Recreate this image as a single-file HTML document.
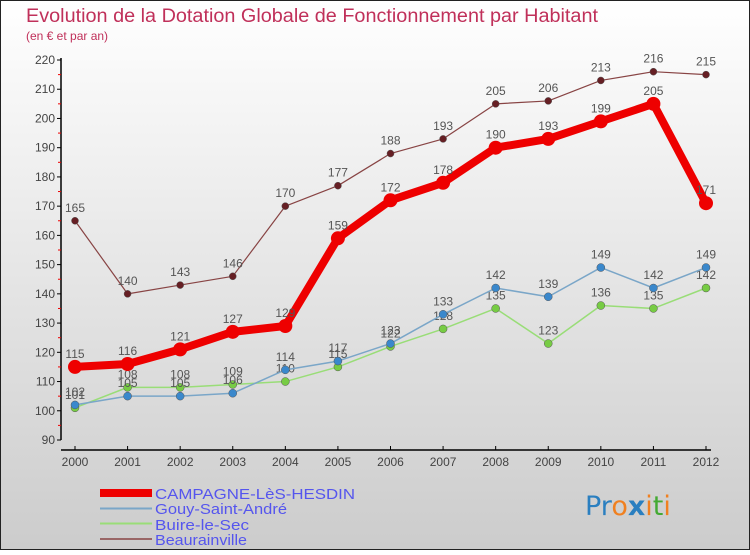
<!DOCTYPE html>
<html><head><meta charset="utf-8"><style>
html,body{margin:0;padding:0}
body{width:750px;height:550px;overflow:hidden;font-family:"Liberation Sans",sans-serif}
</style></head><body>
<svg width="750" height="550" xmlns="http://www.w3.org/2000/svg">
<defs><linearGradient id="bg" x1="0" y1="0" x2="0" y2="1"><stop offset="0" stop-color="#ffffff"/><stop offset="1" stop-color="#cccccc"/></linearGradient></defs>
<rect x="0.5" y="0.5" width="749" height="549" fill="url(#bg)" stroke="#222"/>
<text x="26" y="22" font-size="19" fill="#c0305a" textLength="572" lengthAdjust="spacingAndGlyphs">Evolution de la Dotation Globale de Fonctionnement par Habitant</text>
<text x="26" y="40" font-size="12" fill="#c0305a">(en € et par an)</text>
<g id="axes"></g>
<g id="series"></g>
<g id="legend" font-size="15" fill="#5555ee">
<rect x="100" y="489" width="52" height="8" fill="#ee0000"/>
<text x="155" y="499" textLength="200" lengthAdjust="spacingAndGlyphs">CAMPAGNE-LèS-HESDIN</text>
<rect x="100" y="507.5" width="52" height="2" fill="#7aa6c8"/>
<text x="155" y="514" textLength="132" lengthAdjust="spacingAndGlyphs">Gouy-Saint-André</text>
<rect x="100" y="522.5" width="52" height="2" fill="#99dd77"/>
<text x="155" y="530" textLength="94" lengthAdjust="spacingAndGlyphs">Buire-le-Sec</text>
<rect x="100" y="538" width="52" height="2" fill="#996666"/>
<text x="155" y="545" textLength="92" lengthAdjust="spacingAndGlyphs">Beaurainville</text>
</g>
<g font-size="27" font-family="DejaVu Sans, sans-serif">
<text x="585" y="515"><tspan fill="#2a7fc0">Pr</tspan><tspan fill="#f08020">o</tspan><tspan fill="#2a7fc0" font-weight="bold">x</tspan><tspan fill="#f08020">i</tspan><tspan fill="#44aa33">t</tspan><tspan fill="#f08020">i</tspan></text>
</g>
</svg>
<script>
const years=[2000,2001,2002,2003,2004,2005,2006,2007,2008,2009,2010,2011,2012];
const campagne=[115,116,121,127,129,159,172,178,190,193,199,205,171];
const gouy=[102,105,105,106,114,117,123,133,142,139,149,142,149];
const buire=[101,108,108,109,110,115,122,128,135,123,136,135,142];
const beaurainville=[165,140,143,146,170,177,188,193,205,206,213,216,215];
const yTicks=[90,100,110,120,130,140,150,160,170,180,190,200,210,220];
const NS="http://www.w3.org/2000/svg";
const X0=75,X1=706,Y0=440,Y1=60,VMIN=90,VMAX=220;
const xs=i=>X0+(X1-X0)*i/(years.length-1);
const ys=v=>Y0-(v-VMIN)*(Y0-Y1)/(VMAX-VMIN);
function mk(tag,attrs,parent){const e=document.createElementNS(NS,tag);for(const k in attrs)e.setAttribute(k,attrs[k]);parent.appendChild(e);return e;}
const ax=document.getElementById('axes');
let a=mk('line',{x1:61,y1:Y1-2,x2:61,y2:Y0,stroke:'#000','stroke-width':1.5},ax);


a=mk('line',{x1:61,y1:Y0+10,x2:X1+5,y2:Y0+10,stroke:'#000','stroke-width':1.5},ax);


yTicks.forEach(v=>{const y=ys(v);
mk('line',{x1:57,y1:y,x2:61,y2:y,stroke:'#000'},ax);
if(v<VMAX)mk('line',{x1:58,y1:ys(v+5),x2:61,y2:ys(v+5),stroke:'#e00'},ax);
const t=mk('text',{x:55,y:y+4,'font-size':12,fill:'#444','text-anchor':'end'},ax);t.textContent=v;

});
years.forEach((yr,i)=>{const x=xs(i);
mk('line',{x1:x,y1:Y0+6,x2:x,y2:Y0+10,stroke:'#000'},ax);
const t=mk('text',{x:x,y:Y0+26,'font-size':12,fill:'#444','text-anchor':'middle'},ax);t.textContent=yr;

});
const sg=document.getElementById('series');
function series(name,data,color,dot,w,r){
const g=mk('g',{},sg);


const p=mk('polyline',{points:data.map((v,i)=>xs(i)+','+ys(v)).join(' '),fill:'none',stroke:color,'stroke-width':w,'stroke-linejoin':'round'},g);


data.forEach((v,i)=>{const c=mk('circle',{cx:xs(i),cy:ys(v),r:r,fill:dot,stroke:w>3?'none':'#555','stroke-width':0.5},g);


const t=mk('text',{x:xs(i),y:ys(v)-9,'font-size':12,fill:'#555','text-anchor':'middle'},g);t.textContent=v;

});}
series('buire',buire,'#99dd77','#77cc44',1.5,4);
series('gouy',gouy,'#7aa6c8','#3a88cc',1.5,4);
series('beaurainville',beaurainville,'#884444','#661f24',1.2,3.5);
series('campagne',campagne,'#ee0000','#ee0000',8,7);
</script>
</body></html>
